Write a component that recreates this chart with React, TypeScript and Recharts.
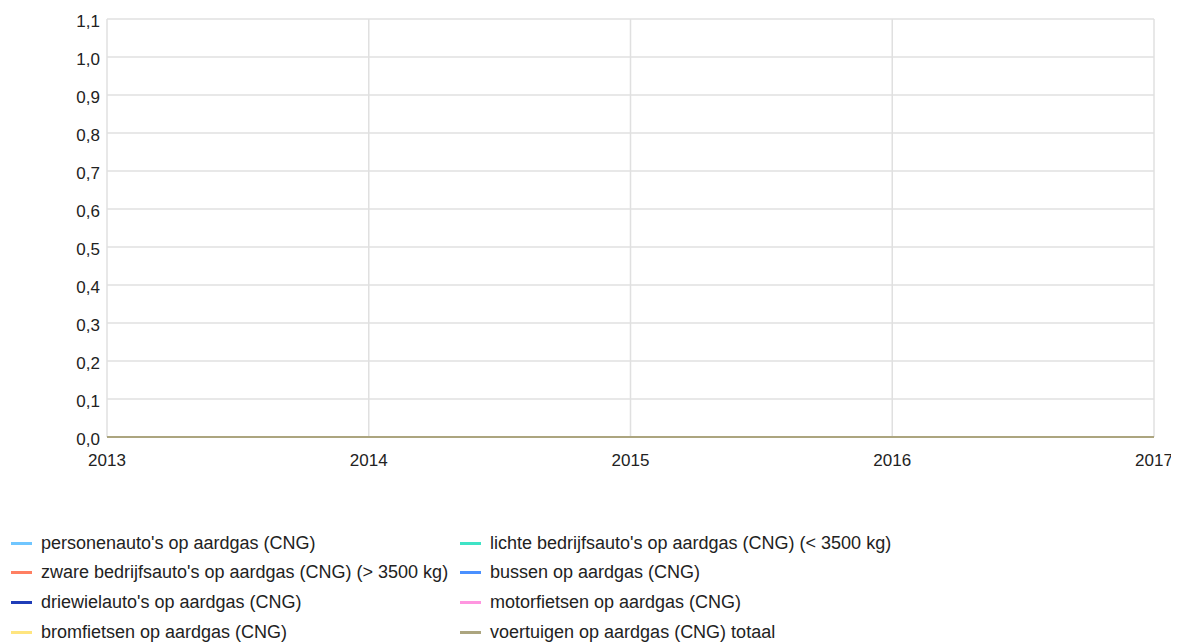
import React from "react";
import { LineChart, Line, XAxis, YAxis, CartesianGrid } from "recharts";

const years = [2013, 2014, 2015, 2016, 2017];

const personenauto = [0, 0, 0, 0, 0];
const lichteBedrijfsauto = [0, 0, 0, 0, 0];
const zwareBedrijfsauto = [0, 0, 0, 0, 0];
const bussen = [0, 0, 0, 0, 0];
const driewielauto = [0, 0, 0, 0, 0];
const motorfietsen = [0, 0, 0, 0, 0];
const bromfietsen = [0, 0, 0, 0, 0];
const totaal = [0, 0, 0, 0, 0];

const yTicks = [0, 0.1, 0.2, 0.3, 0.4, 0.5, 0.6, 0.7, 0.8, 0.9, 1.0, 1.1];

const series = [
  { key: "personenauto", name: "personenauto's op aardgas (CNG)", values: personenauto, color: "#70c6ff" },
  { key: "lichte", name: "lichte bedrijfsauto's op aardgas (CNG) (< 3500 kg)", values: lichteBedrijfsauto, color: "#3fe3c6" },
  { key: "zware", name: "zware bedrijfsauto's op aardgas (CNG) (> 3500 kg)", values: zwareBedrijfsauto, color: "#ff7f62" },
  { key: "bussen", name: "bussen op aardgas (CNG)", values: bussen, color: "#4a90ff" },
  { key: "driewiel", name: "driewielauto's op aardgas (CNG)", values: driewielauto, color: "#1f3db8" },
  { key: "motor", name: "motorfietsen op aardgas (CNG)", values: motorfietsen, color: "#ff96e0" },
  { key: "brom", name: "bromfietsen op aardgas (CNG)", values: bromfietsen, color: "#ffe57f" },
  { key: "totaal", name: "voertuigen op aardgas (CNG) totaal", values: totaal, color: "#aca57f" },
];

const data = years.map((year, i) => {
  const row: Record<string, number> = { year };
  series.forEach((s) => {
    row[s.key] = s.values[i];
  });
  return row;
});

const font = "'Liberation Sans', Arial, sans-serif";
const tickStyle = { fill: "#222", fontSize: 17, fontFamily: font };

const fmt = (v: number) => v.toFixed(1).replace(".", ",");

// legend in two columns, left column first
const legendRows = [
  [series[0], series[1]],
  [series[2], series[3]],
  [series[4], series[5]],
  [series[6], series[7]],
];

function LegendItem({ s, x, y }: { s: (typeof series)[number]; x: number; y: number }) {
  return (
    <div
      style={{
        position: "absolute",
        left: x,
        top: y - 11,
        height: 22,
        display: "flex",
        alignItems: "center",
        whiteSpace: "nowrap",
        fontFamily: font,
        fontSize: 18,
        color: "#222",
      }}
    >
      <span style={{ display: "inline-block", width: 21, height: 3, background: s.color, marginRight: 9 }} />
      {s.name}
    </div>
  );
}

export default function App() {
  return (
    <div style={{ position: "relative", width: 1171, height: 636 }}>
      <LineChart
        width={1171}
        height={470}
        data={data}
        margin={{ top: 11, right: 25, left: 0, bottom: 11 }}
      >
        <CartesianGrid stroke="#e0e0e0" strokeWidth={1.5} />
        <XAxis
          dataKey="year"
          type="number"
          domain={[2013, 2017]}
          ticks={years}
          axisLine={false}
          tickLine={false}
          tickSize={0}
          tickMargin={17}
          height={30}
          tick={tickStyle}
        />
        <YAxis
          type="number"
          domain={[0, 1.1]}
          ticks={yTicks}
          tickFormatter={fmt}
          axisLine={false}
          tickLine={false}
          tickSize={0}
          tickMargin={7}
          width={99}
          tick={{ ...tickStyle, dy: 2 }}
        />
        {series.map((s) => (
          <Line
            key={s.key}
            dataKey={s.key}
            name={s.name}
            stroke={s.color}
            strokeWidth={2}
            dot={false}
            isAnimationActive={false}
          />
        ))}
      </LineChart>
      {legendRows.map((row, i) => (
        <React.Fragment key={i}>
          <LegendItem s={row[0]} x={3} y={535 + i * 29.7} />
          <LegendItem s={row[1]} x={452} y={535 + i * 29.7} />
        </React.Fragment>
      ))}
    </div>
  );
}
